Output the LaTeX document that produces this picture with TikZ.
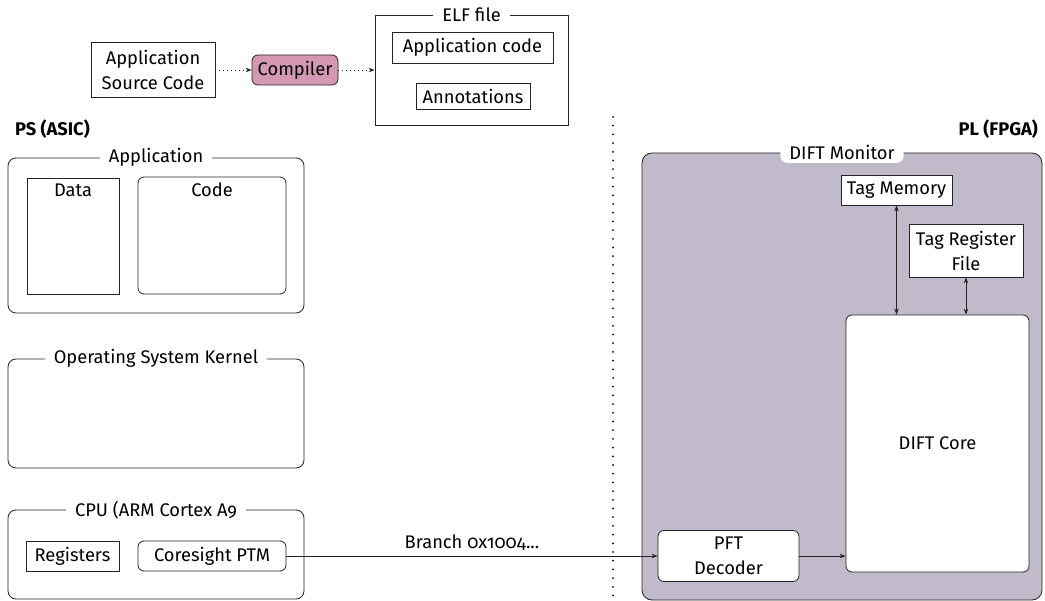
\documentclass[tikz,border=0pt]{standalone}
\usepackage{fontspec}
\setmainfont{Fira Sans}[Numbers=OldStyle]
\usetikzlibrary{arrows.meta,calc}
\definecolor{diftbg}{RGB}{192,186,202}
\definecolor{compfill}{RGB}{213,152,178}
\definecolor{edge}{RGB}{35,35,35}
\begin{document}
\begin{tikzpicture}[x=1pt,y=-1pt,
  font=\fontsize{18.3}{25}\selectfont,
  box/.style={draw=edge, line width=0.8pt, inner sep=0pt, align=center, fill=white},
  rbox/.style={box, rounded corners=6pt},
  grp/.style={draw=edge, line width=0.8pt, rounded corners=8pt, inner sep=0pt},
  ttl/.style={fill=white, inner xsep=9pt, inner ysep=3pt, rounded corners=7pt},
  tip/.tip={Stealth[length=6pt,width=4.5pt]},
  arr/.style={-tip, line width=0.8pt, draw=edge},
  darr/.style={tip-tip, line width=0.8pt, draw=edge},
  dotarr/.style={arr, dash pattern=on 1pt off 3pt},
  sep/.style={line width=2pt, line cap=round, dash pattern=on 0pt off 8.7pt},
  head/.style={font=\fontsize{18.3}{25}\selectfont\bfseries, inner sep=0pt},
  inlbl/.style={anchor=north, inner sep=0pt}]
\useasboundingbox (0,0) rectangle (1045,601);

% ---------- top: compilation flow ----------
\node[box, minimum width=124pt, minimum height=55pt] (src) at (153,70) {Application\\Source Code};
\node[rbox, fill=compfill, minimum width=86pt, minimum height=30pt] (comp) at (295,70) {Compiler};
\node[box, minimum width=193pt, minimum height=110pt] (elf) at (471.5,70) {};
\node[ttl, rounded corners=0pt] (elft) at (elf.north) {ELF file};
\node[box, minimum width=161pt, minimum height=31pt] (appcode) at (472.5,47.5) {Application code};
\node[box, minimum width=114pt, minimum height=26pt] (annot) at (473,96) {Annotations};
\draw[dotarr] (src.east) -- (comp.west);
\draw[dotarr] (comp.east) -- (elf.west);

% ---------- headings and separator ----------
\node[head, anchor=west] (ps) at (15,129) {PS (ASIC)};
\node[head, anchor=east] (pl) at (1038,129) {PL (FPGA)};
\coordinate (septop) at (613,117);
\coordinate (sepbot) at (613,601);
\draw[sep] (septop) -- (sepbot);

% ---------- PS side ----------
\node[grp, minimum width=296pt, minimum height=155pt] (app) at (156,235.5) {};
\node[ttl] (appt) at (app.north) {Application};
\node[box, minimum width=92pt, minimum height=116pt] (data) at (73,236) {};
\node[inlbl] (datat) at ([yshift=-6pt]data.north) {Data};
\node[rbox, minimum width=148pt, minimum height=117pt] (code) at (212,235.5) {};
\node[inlbl] (codet) at ([yshift=-6pt]code.north) {Code};

\node[grp, minimum width=296pt, minimum height=109pt] (os) at (156,413.5) {};
\node[ttl] (ost) at (os.north) {Operating System Kernel};

\node[grp, minimum width=296pt, minimum height=89pt] (cpu) at (156,554.5) {};
\node[ttl] (cput) at (cpu.north) {CPU (ARM Cortex A9};
\node[box, minimum width=93pt, minimum height=30pt] (regs) at (72.5,556) {Registers};
\node[rbox, minimum width=148pt, minimum height=30pt] (cs) at (212,556) {Coresight PTM};

% ---------- PL side ----------
\node[grp, fill=diftbg, rounded corners=10pt, minimum width=400pt, minimum height=447pt] (dift) at (842,376.5) {};
\node[ttl] (diftt) at (dift.north) {DIFT Monitor};
\node[box, minimum width=111pt, minimum height=30pt] (tagmem) at (896.5,190) {Tag Memory};
\node[box, minimum width=114pt, minimum height=53pt] (tagreg) at (966,250.5) {Tag Register\\File};
\node[rbox, minimum width=183pt, minimum height=257pt] (core) at (937.5,443.5) {DIFT Core};
\node[rbox, minimum width=141pt, minimum height=51pt] (pft) at (728.5,556) {PFT\\Decoder};

\draw[darr] (tagmem.south) -- (tagmem.south |- core.north);
\draw[darr] (tagreg.south) -- (tagreg.south |- core.north);
\draw[arr] (pft.east) -- (pft.east -| core.west);
\draw[arr] (cs.east) -- node[above=5pt, inner sep=0pt] (branch) {Branch 0x1004...} (pft.west);
\end{tikzpicture}
\end{document}
